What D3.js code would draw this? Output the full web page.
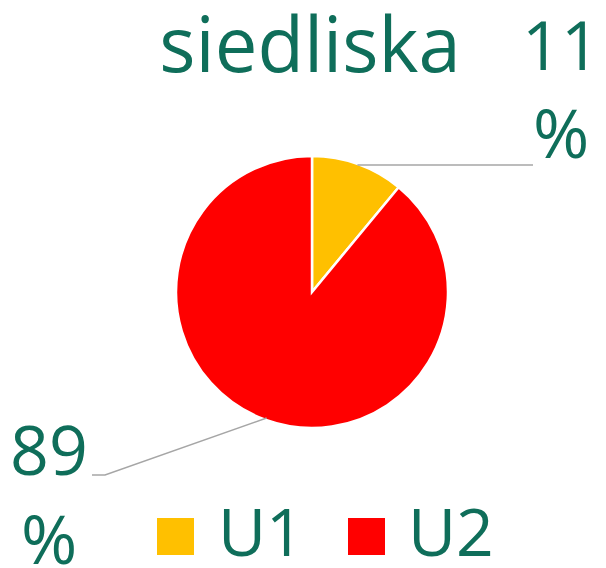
<!DOCTYPE html>
<html><head><meta charset="utf-8">
<script src="https://cdn.jsdelivr.net/npm/d3@7"></script>
<style>html,body{margin:0;padding:0;background:#fff;}</style>
</head><body>
<svg id="c" width="606" height="568"></svg>
<script>
const categories = ["U1", "U2"];
const values = [11, 89];
const colors = ["#FFC000", "#FF0000"];
const title = "siedliska";

const svg = d3.select("#c");
const font = "'Open Sans', sans-serif";
const txt = "#0f6e5a";
const cx = 312, cy = 292, r = 136;

svg.append("text").attr("x", 310).attr("y", 72).attr("text-anchor", "middle")
  .attr("font-family", font).attr("font-size", 76).attr("fill", txt).text(title);

const pie = d3.pie().sort(null).value(d => d)(values);
const arc = d3.arc().innerRadius(0).outerRadius(r);
const g = svg.append("g").attr("transform", `translate(${cx},${cy})`);
g.selectAll("path").data(pie).join("path")
  .attr("d", arc).attr("fill", (d, i) => colors[i])
  .attr("stroke", "#fff").attr("stroke-width", 2.5);

// leader lines
const mid = d => (d.startAngle + d.endAngle) / 2;
const pt = (d, rr) => [cx + rr * Math.sin(mid(d)), cy - rr * Math.cos(mid(d))];
const p0 = pt(pie[0], r - 2);
svg.append("polyline").attr("points", [[p0[0], p0[1] - 1], [533, p0[1] - 1]].join(" "))
  .attr("fill", "none").attr("stroke", "#a6a6a6").attr("stroke-width", 1.5);
const p1 = pt(pie[1], r - 2);
svg.append("polyline").attr("points", [[p1[0], p1[1]], [105, 475], [92, 475]].join(" "))
  .attr("fill", "none").attr("stroke", "#a6a6a6").attr("stroke-width", 1.5);

// labels
const lab = [{x: 561, y1: 70, y2: 158}, {x: 49, y1: 475, y2: 564}];
pie.forEach((d, i) => {
  const t = svg.append("text").attr("text-anchor", "middle")
    .attr("font-family", font).attr("font-size", 68).attr("fill", txt);
  t.append("tspan").attr("x", lab[i].x).attr("y", lab[i].y1).text(values[i]);
  t.append("tspan").attr("x", lab[i].x).attr("y", lab[i].y2).text("%");
});

// legend
const leg = [{sx: 157, tx: 218}, {sx: 348, tx: 408}];
categories.forEach((c, i) => {
  svg.append("rect").attr("x", leg[i].sx).attr("y", 518).attr("width", 37).attr("height", 37)
    .attr("fill", colors[i]);
  svg.append("text").attr("x", leg[i].tx).attr("y", 556)
    .attr("font-family", font).attr("font-size", 66).attr("fill", txt).text(c);
});
</script>
</body></html>
